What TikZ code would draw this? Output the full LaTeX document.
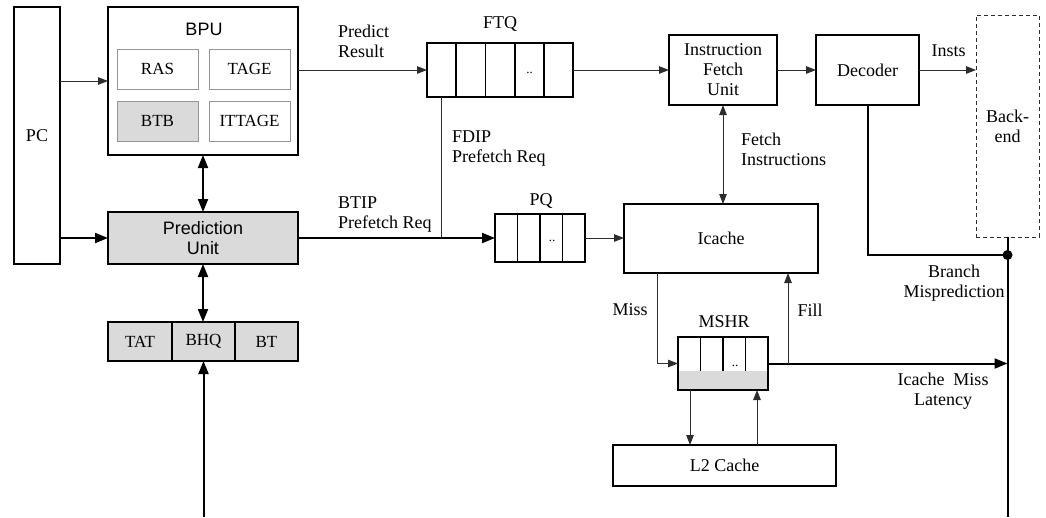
\documentclass[tikz,border=0pt]{standalone}
\usepackage{fontspec}
\setmainfont{Liberation Serif}
\newfontfamily\helv{Liberation Sans}
\usetikzlibrary{arrows.meta,calc}

\definecolor{boxgray}{RGB}{218,218,218}
\definecolor{linegray}{RGB}{45,45,45}
\definecolor{subgray}{RGB}{150,150,150}

\begin{document}
\begin{tikzpicture}[x=1pt,y=-1pt,
  font=\fontsize{18}{20}\selectfont,
  box/.style={draw=black, line width=1.8pt, inner sep=0pt, outer sep=0pt, align=center},
  subbox/.style={draw=subgray, line width=0.9pt, inner sep=0pt, outer sep=0pt,
                 minimum width=81, minimum height=40, font=\fontsize{17}{20}\selectfont},
  graybox/.style={box, fill=boxgray},
  divider/.style={draw=black, line width=1.8pt},
  thinarrow/.style={draw=linegray, line width=1pt, -{Triangle[length=10pt,width=7.5pt]}},
  thinboth/.style={draw=linegray, line width=1pt, {Triangle[length=10pt,width=7.5pt]}-{Triangle[length=10pt,width=7.5pt]}},
  thickarrow/.style={draw=black, line width=2pt, -{Triangle[length=13pt,width=10pt]}},
  thickboth/.style={draw=black, line width=2pt, {Triangle[length=13pt,width=10pt]}-{Triangle[length=13pt,width=10pt]}},
  thinline/.style={draw=linegray, line width=1pt},
  thickline/.style={draw=black, line width=2pt},
  lbl/.style={inner sep=0pt, align=left},
  clbl/.style={inner sep=0pt, align=center},
  dots/.style={inner sep=0pt, font=\fontsize{13}{13}\selectfont}
]
\useasboundingbox (0,0) rectangle (1046,517);

% --- front-end prediction side ---
\node[box, minimum width=46, minimum height=257] (pc) at (37,135.5) {PC};

\node[box, minimum width=190, minimum height=148] (bpu) at (203,81) {};
\node[clbl, font=\helv\fontsize{18}{20}\selectfont] (bputitle) at (204,29) {BPU};
\node[subbox] (ras) at (157.5,69) {RAS};
\node[subbox] (tage) at (249.5,69) {TAGE};
\node[subbox, fill=boxgray] (btb) at (157.5,121) {BTB};
\node[subbox] (ittage) at (249.5,121) {ITTAGE};

\node[graybox, minimum width=190, minimum height=52,
      font=\helv\fontsize{18}{20}\selectfont] (pu) at (203,238) {Prediction\\Unit};

\node[graybox, minimum width=64, minimum height=39, font=\fontsize{17}{20}\selectfont] (tat) at (140,341.5) {TAT};
\node[graybox, minimum width=63, minimum height=39, font=\fontsize{17}{20}\selectfont] (bhq) at (203.5,341.5) {BHQ};
\node[graybox, minimum width=63, minimum height=39, font=\fontsize{17}{20}\selectfont] (bt) at (266.5,341.5) {BT};
\coordinate (bhqin) at (203.5,517);

% --- fetch target queue and fetch ---
\node[box, minimum width=146, minimum height=54] (ftq) at (500,70) {};
\foreach \i in {1,...,4}
  \draw[divider] ($(ftq.north west)!\i/5!(ftq.north east)$) -- ($(ftq.south west)!\i/5!(ftq.south east)$);
\node[dots] (ftqdots) at (529.5,73) {..};
\node[clbl] (ftqlbl) at (500,23.5) {FTQ};

\node[box, minimum width=108, minimum height=70] (ifu) at (723,70) {Instruction\\Fetch\\Unit};
\node[box, minimum width=103, minimum height=70] (dec) at (867.5,70) {Decoder};
\node[box, draw=linegray, dashed, line width=1pt, dash pattern=on 4pt off 3pt,
      minimum width=63, minimum height=222] (be) at (1007.5,126) {Back-\\end};

% --- prefetch queue and caches ---
\node[box, minimum width=90, minimum height=48] (pq) at (540,238) {};
\foreach \i in {1,...,3}
  \draw[divider] ($(pq.north west)!\i/4!(pq.north east)$) -- ($(pq.south west)!\i/4!(pq.south east)$);
\node[dots] (pqdots) at (552,241) {..};
\node[clbl] (pqlbl) at (541,201) {PQ};

\node[box, minimum width=194, minimum height=69] (icache) at (721,238.5) {Icache};

\fill[boxgray] (678,371) rectangle (768,390);
\node[dots] (mshrdots) at (735,366) {..};
\node[box, minimum width=90, minimum height=53] (mshr) at (723,363.5) {};
\foreach \i in {1,...,3}
  \draw[divider] ($(mshr.north west)!\i/4!(mshr.north east)$) -- ($(mshr.north west)!\i/4!(mshr.north east)+(0,34)$);
\node[clbl] (mshrlbl) at (724,322) {MSHR};

\node[box, minimum width=223, minimum height=41] (l2) at (724.5,465.5) {L2 Cache};

% --- connectors ---
\draw[thinarrow] (pc.east |- 0,81) -- (bpu.west |- 0,81);
\draw[thickarrow] (pc.east |- pu.west) -- (pu.west);
\draw[thickboth] (bpu.south) -- (pu.north);
\draw[thickboth] (pu.south) -- (pu.south |- bhq.north);
\draw[thickarrow] (bhqin) -- (bhq.south);

\draw[thinarrow] (bpu.east |- ftq.west) -- (ftq.west);
\draw[thinarrow] (ftq.east) -- (ifu.west);
\draw[thinarrow] (ifu.east) -- (dec.west);
\draw[thinarrow] (dec.east) -- (be.west |- dec.east);

\coordinate (join) at (441,238);
\draw[thinline] (ftq.south -| join) -- (join);
\draw[thickarrow] (pu.east) -- (pq.west);
\draw[thinarrow] (pq.east) -- (pq.east -| icache.west);
\draw[thinboth] (ifu.south) -- (ifu.south |- icache.north);

\coordinate (dot) at (1007.5,255);
\coordinate (bebottom) at (1007.5,517);
\draw[thickline] (dec.south) |- (dot);
\draw[thickline] (be.south) -- (bebottom);
\fill[black] (dot) circle (5pt);

\draw[thinarrow] (icache.south -| 657,0) |- (mshr.west);
\draw[thickarrow] (mshr.east) -- (mshr.east -| dot);
\coordinate (fillpt) at (788,363.5);
\draw[thinarrow] (fillpt) -- (icache.south -| fillpt);
\draw[thinarrow] (mshr.south -| 690,0) -- (l2.north -| 690,0);
\draw[thinarrow] (l2.north -| 757,0) -- (mshr.south -| 757,0);

% --- labels ---
\node[lbl, anchor=west] (predres) at (338,41) {Predict\\Result};
\node[lbl, anchor=west] (btip) at (338,215) {BTIP\\Prefetch Req};
\node[lbl, anchor=west] (fdip) at (452,149) {FDIP\\Prefetch Req};
\node[lbl, anchor=west] (fetchins) at (741,149) {Fetch\\Instructions};
\node[clbl] (insts) at (948.5,51) {Insts};
\node[clbl] (branch) at (954,283) {Branch\\Misprediction};
\node[clbl] (miss) at (630,310) {Miss};
\node[clbl] (fill) at (810,310) {Fill};
\node[clbl] (latency) at (943,391) {Icache~ Miss\\Latency};
\end{tikzpicture}
\end{document}
